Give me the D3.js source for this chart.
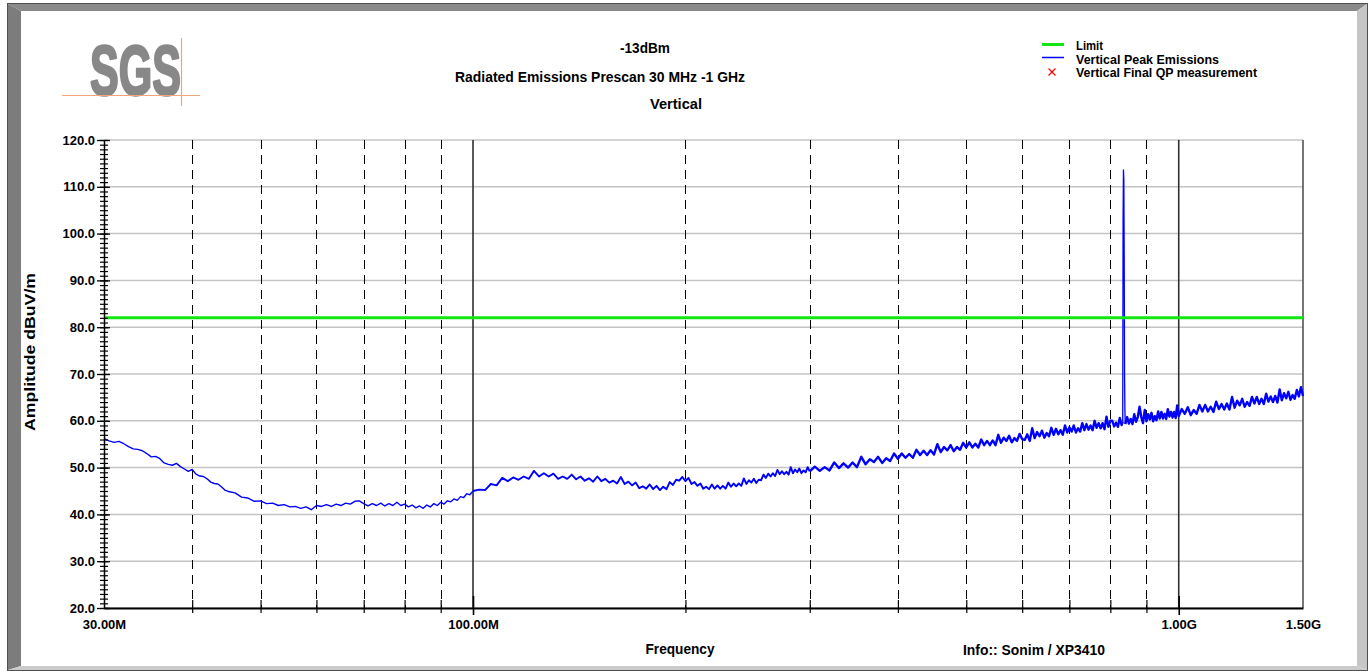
<!DOCTYPE html>
<html>
<head>
<meta charset="utf-8">
<script src="https://cdn.jsdelivr.net/npm/d3@7"></script>
<style>
  body { margin: 0; background: #fff; }
  svg text { font-family: "Liberation Sans", Arial, sans-serif; font-weight: bold; }
</style>
</head>
<body>
<div id="canvas"></div>
<script>
// frequency in MHz, amplitude in dBuV/m
var scan30to100 = [[30,56.2],[30.5,55.7],[31,55.4],[31.5,55.6],[32,55.1],[32.5,54.5],[33,54.0],[33.5,53.9],[34,53.6],[34.5,53.0],
    [35,52.3],[35.5,52.4],[36,51.9],[36.5,51.0],[37,50.7],[37.5,50.5],[38,50.9],[38.5,50.2],[39,49.7],[39.5,49.2],
    [40,49.6],[40.5,48.6],[41,48.2],[41.5,48.1],[42,47.6],[42.5,46.9],[43,46.6],[43.5,46.5],[44,45.9],[44.5,45.2],
    [45,44.9],[46,44.6],[47,43.7],[48,43.5],[49,42.8],[50,42.9],[51,42.3],[52,42.4],[53,41.9],[54,42.1],
    [55,41.6],[56,41.7],[57,41.3],[58,41.6],[59,41.0],[60,41.9],[61,41.7],[62,42.1],[63,41.7],[64,42.2],
    [65,41.9],[66,42.4],[67,42.2],[68,42.8],[69,42.9],[70,42.3],[71,41.8],[72,42.3],[73,41.9],[74,42.4],
    [75,41.8],[76,42.3],[77,41.9],[78,42.6],[79,41.9],[80,42.2],[81,41.6],[82,42.0],[83,41.4],[84,41.8],
    [85,41.3],[86,42.0],[87,41.6],[88,42.3],[89,41.9],[90,42.6],[91,42.2],[92,42.9],[93,42.7],[94,43.3],
    [95,43.0],[96,43.8],[97,43.6],[98,44.4],[99,44.2],[100,45.0]];

var scan100to300 = [[102,45.3],[104,45.2],[106,46.5],[108,46.2],[110,47.8],[112,47.1],[114,47.9],[116,47.4],[118,48.1],[120,47.6],
    [122,49.3],[124,48.1],[126,48.8],[128,48.1],[130,48.7],[132,47.6],[134,48.1],[136,47.6],[138,48.5],[140,47.5],
    [142,48.1],[144,47.2],[146,47.7],[148,47.0],[150,48.1],[152,47.1],[154,47.6],[156,46.8],[158,47.2],[160,46.6],
    [162,48.0],[164,46.5],[166,47.0],[168,46.2],[170,46.8],[172,45.6],[174,46.0],[176,45.5],[178,46.4],[180,45.4],
    [182,46.1],[184,45.2],[186,45.9],[188,45.4],[190,46.9],[192,46.3],[194,47.4],[196,47.2],[198,48.0],[200,47.1],
    [202,47.8],[204,46.5],[206,46.9],[208,46.1],[210,46.6],[212,45.5],[214,45.9],[216,45.4],[218,46.4],[220,45.5],
    [222,46.2],[224,45.5],[226,46.1],[228,45.5],[230,46.8],[232,45.9],[234,46.6],[236,46.0],[238,46.6],[240,46.1],
    [242,47.7],[244,46.5],[246,47.3],[248,46.8],[250,47.6],[252,46.7],[254,47.4],[256,47.3],[258,48.5],[260,47.8],
    [262,48.7],[264,48.1],[266,48.8],[268,48.2],[270,49.5],[272,48.6],[274,49.2],[276,48.6],[278,49.1],[280,48.5],
    [282,50.1],[284,48.8],[286,49.6],[288,49.0],[290,49.8],[292,48.8],[294,49.4],[296,49.0],[298,50.1],[300,49.2]];

var scan300to833 = [[305,50.2],[310,49.3],[315,50.1],[320,49.4],[325,51.1],[330,49.9],[335,50.9],[340,50.0],[345,51.1],[350,50.1],
    [355,52.3],[360,50.7],[365,51.8],[370,51.2],[375,52.3],[380,51.0],[385,52.0],[390,51.4],[395,53.0],[400,51.9],
    [405,53.0],[410,52.1],[415,52.9],[420,52.1],[425,53.8],[430,52.7],[435,53.6],[440,52.7],[445,53.7],[450,52.8],
    [455,55.0],[460,53.3],[465,54.4],[470,53.7],[475,54.8],[480,53.5],[485,54.4],[490,53.8],[495,55.3],[500,54.3],
    [505,55.4],[510,54.3],[515,55.1],[520,54.3],[525,56.0],[530,54.8],[535,55.7],[540,54.8],[545,55.8],[550,54.8],
    [555,57.0],[560,55.3],[565,56.4],[570,55.7],[575,56.8],[580,55.4],[585,56.3],[590,55.7],[595,57.2],[600,56.1],
    [605,55.9],[610,57.1],[615,55.7],[620,58.4],[625,56.3],[630,57.6],[635,56.7],[640,57.9],[645,56.4],[650,57.4],
    [655,56.7],[660,58.5],[665,57.0],[670,58.3],[675,57.1],[680,58.0],[685,57.0],[690,59.0],[695,57.5],[700,58.6],
    [705,57.7],[710,59.0],[715,57.5],[720,58.4],[725,57.7],[730,59.5],[735,58.0],[740,59.3],[745,58.1],[750,59.0],
    [755,58.0],[760,60.0],[765,58.5],[770,59.5],[775,58.4],[780,59.5],[785,58.2],[790,60.9],[795,58.7],[800,60.0],
    [805,60.0],[810,58.8],[815,59.6],[820,58.7],[825,60.6],[830,59.1],[833,59.8]];

// carrier spike near 836 MHz
var spike833to840 = [[833,59.8],[834,103.0],[835,113.6],[836,111.5],[837,96.0],[838,69.8],[839,62.0],[840,59.3]];

var scan840to1000 = [[840,59.3],[845,60.8],[850,59.4],[855,60.4],[860,59.3],[865,61.4],[870,59.8],
    [875,60.8],[880,63.0],[885,60.8],[890,59.5],[895,62.3],[900,59.9],[905,61.4],[910,60.3],[915,61.7],[920,59.9],
    [925,61.0],[930,60.1],[935,62.0],[940,60.5],[945,61.9],[950,60.5],[955,61.5],[960,60.4],[965,62.5],[970,60.9],
    [975,61.9],[980,60.7],[985,61.9],[990,60.6],[995,63.3],[1000,61.0]];

var scan1000to1500 = [[1010,62.5],[1020,61.5],[1030,62.9],[1040,61.2],[1050,62.3],[1060,61.5],[1070,63.4],[1080,62.0],[1090,63.4],[1100,62.0],
    [1110,63.0],[1120,61.9],[1130,64.1],[1140,62.5],[1150,63.6],[1160,62.4],[1170,63.7],[1180,62.4],[1190,65.1],[1200,62.8],
    [1210,64.3],[1220,63.3],[1230,64.7],[1240,63.0],[1250,64.0],[1260,63.2],[1270,65.1],[1280,63.7],[1290,65.1],[1300,63.6],
    [1310,64.7],[1320,63.6],[1330,65.8],[1340,64.1],[1350,65.2],[1360,64.0],[1370,65.3],[1380,63.9],[1390,66.7],[1400,64.4],
    [1410,65.9],[1420,64.8],[1430,66.2],[1440,64.5],[1450,65.5],[1460,64.7],[1470,66.6],[1480,65.2],[1490,67.2],[1500,65.3]];

var limitLine = [[30, 82], [1500, 82]];

var yTickValues = [20, 30, 40, 50, 60, 70, 80, 90, 100, 110, 120];
var xGridMHz = [40, 50, 60, 70, 80, 90, 200, 300, 400, 500, 600, 700, 800, 900];
var xMajorMHz = [30, 100, 1000, 1500];
var xMajorLabels = ['30.00M', '100.00M', '1.00G', '1.50G'];
var legendLabels = ['Limit', 'Vertical Peak Emissions', 'Vertical Final QP measurement'];
var titleLines = ['-13dBm', 'Radiated Emissions  Prescan 30 MHz -1 GHz', 'Vertical'];

var svgWidth = 1369;
var svgHeight = 671;
var traceColor = '#0000ff';
var limitColor = '#14e614';

var svg = d3.select('#canvas').append('svg')
    .attr('width', svgWidth)
    .attr('height', svgHeight)
    .style('display', 'block');

var x = d3.scaleLog().domain([30, 1500]).range([104, 1303]);
var y = d3.scaleLinear().domain([20, 120]).range([608, 140]);

// window frame (bevel)
svg.append('rect').attr('x', 0).attr('y', 0).attr('width', svgWidth).attr('height', svgHeight).attr('fill', '#fff');
svg.append('polygon').attr('points', '8,4 1367,4 1357,11 21,11').attr('fill', '#8a8a8a');
svg.append('polygon').attr('points', '8,4 21,11 21,666 8,670').attr('fill', '#7c7c7c');
svg.append('polygon').attr('points', '1367,4 1367,670 1357,666 1357,11').attr('fill', '#c6c6c6');
svg.append('polygon').attr('points', '8,670 1367,670 1357,666 21,666').attr('fill', '#cacaca');
svg.append('rect').attr('x', 7.5).attr('y', 3.5).attr('width', 1360).attr('height', 667)
    .attr('fill', 'none').attr('stroke', '#505050').attr('stroke-width', 1);

// SGS logo
svg.append('text')
    .attr('x', 90).attr('y', 95)
    .attr('font-size', 70)
    .attr('textLength', 91).attr('lengthAdjust', 'spacingAndGlyphs')
    .attr('fill', '#888888')
    .attr('stroke', '#888888').attr('stroke-width', 2.6).attr('stroke-linejoin', 'round')
    .text('SGS');
svg.append('line').attr('x1', 62).attr('x2', 200).attr('y1', 95.5).attr('y2', 95.5)
    .attr('stroke', '#f2a474').attr('stroke-width', 1.2);
svg.append('line').attr('x1', 181.5).attr('x2', 181.5).attr('y1', 38).attr('y2', 106)
    .attr('stroke', '#f2a474').attr('stroke-width', 1.2);

// titles
var titlePos = [[645, 53, 50], [600, 82, 290], [676, 109, 52]];
titleLines.forEach(function (t, i) {
    svg.append('text')
        .attr('x', titlePos[i][0]).attr('y', titlePos[i][1])
        .attr('text-anchor', 'middle')
        .attr('font-size', 14)
        .attr('textLength', titlePos[i][2]).attr('lengthAdjust', 'spacingAndGlyphs')
        .text(t);
});

// legend
var legendY = [50, 63.5, 77];
var legendW = [27, 143, 181];
legendLabels.forEach(function (t, i) {
    svg.append('text')
        .attr('x', 1076).attr('y', legendY[i])
        .attr('font-size', 12.5)
        .attr('textLength', legendW[i]).attr('lengthAdjust', 'spacingAndGlyphs')
        .text(t);
});
svg.append('line').attr('x1', 1042).attr('x2', 1064).attr('y1', 44.5).attr('y2', 44.5)
    .attr('stroke', limitColor).attr('stroke-width', 3);
svg.append('line').attr('x1', 1042).attr('x2', 1064).attr('y1', 57.5).attr('y2', 57.5)
    .attr('stroke', traceColor).attr('stroke-width', 1.5);
svg.append('path').attr('d', 'M1048.5,68.5L1055.5,75.5M1055.5,68.5L1048.5,75.5')
    .attr('stroke', '#ff0000').attr('stroke-width', 1.2).attr('fill', 'none');

// horizontal grid
svg.append('g').selectAll('line').data(yTickValues).enter().append('line')
    .attr('x1', x(30)).attr('x2', x(1500))
    .attr('y1', function (d) { return y(d); })
    .attr('y2', function (d) { return y(d); })
    .attr('stroke', '#c4c4c4').attr('stroke-width', 1.5);

// vertical dashed grid
svg.append('g').selectAll('line').data(xGridMHz).enter().append('line')
    .attr('x1', function (d) { return Math.round(x(d)) + 0.5; })
    .attr('x2', function (d) { return Math.round(x(d)) + 0.5; })
    .attr('y1', y(120)).attr('y2', y(20))
    .attr('stroke', '#000').attr('stroke-width', 1)
    .attr('stroke-dasharray', '9,6');

// decade lines + right border
svg.append('g').selectAll('line').data([100, 1000]).enter().append('line')
    .attr('x1', function (d) { return x(d); })
    .attr('x2', function (d) { return x(d); })
    .attr('y1', y(120)).attr('y2', y(20))
    .attr('stroke', '#303030').attr('stroke-width', 1.6);
svg.append('line').attr('x1', x(1500)).attr('x2', x(1500)).attr('y1', y(120)).attr('y2', y(20))
    .attr('stroke', '#555').attr('stroke-width', 1.6);

// peak trace, drawn per sweep segment (the noise band gets thicker with frequency)
var line = d3.line()
    .x(function (d) { return x(d[0]); })
    .y(function (d) { return y(d[1]); });
var segments = [
    {pts: scan30to100, w: 1.4},
    {pts: [scan30to100[scan30to100.length - 1]].concat(scan100to300), w: 1.9},
    {pts: [scan100to300[scan100to300.length - 1]].concat(scan300to833), w: 2.4},
    {pts: spike833to840, w: 1.3},
    {pts: scan840to1000.concat(scan1000to1500), w: 2.4}
];
segments.forEach(function (s) {
    svg.append('path').datum(s.pts)
        .attr('d', line)
        .attr('fill', 'none')
        .attr('stroke', traceColor)
        .attr('stroke-width', s.w)
        .attr('stroke-linejoin', 'round');
});

// limit line
svg.append('path').datum(limitLine)
    .attr('d', line)
    .attr('fill', 'none')
    .attr('stroke', limitColor)
    .attr('stroke-width', 3);

// y axis
var yAxisG = svg.append('g').attr('transform', 'translate(' + x(30) + ',0)')
    .call(d3.axisLeft(y).tickValues(yTickValues).tickFormat(d3.format('.1f'))
        .tickSizeInner(7).tickSizeOuter(0).tickPadding(2));
yAxisG.selectAll('.tick line').attr('x1', 6).attr('stroke-width', 1.3);
yAxisG.selectAll('.tick text').attr('font-size', 13).attr('font-family', '"Liberation Sans", Arial, sans-serif');
yAxisG.select('.domain').attr('stroke-width', 1.5);

var yMinorG = svg.append('g').attr('transform', 'translate(' + x(30) + ',0)')
    .call(d3.axisLeft(y).tickValues(d3.range(20, 121, 1)).tickFormat('').tickSize(4));
yMinorG.selectAll('.tick line').attr('x1', 4).attr('stroke-width', 1.2);
yMinorG.select('.domain').remove();

// x axis
var xMinorG = svg.append('g').attr('transform', 'translate(0,' + y(20) + ')')
    .call(d3.axisBottom(x).tickValues(xGridMHz).tickFormat('').tickSize(5));
xMinorG.selectAll('.tick line').attr('y1', -8).attr('stroke-width', 1.2);
xMinorG.select('.domain').remove();

var xAxisG = svg.append('g').attr('transform', 'translate(0,' + y(20) + ')')
    .call(d3.axisBottom(x).tickValues(xMajorMHz)
        .tickFormat(function (d, i) { return xMajorLabels[i]; })
        .tickSizeInner(7).tickSizeOuter(0).tickPadding(5));
xAxisG.selectAll('.tick line').attr('y1', -12).attr('stroke-width', 1.6)
    .attr('opacity', function (d) { return (d === 30 || d === 1500) ? 0 : 1; });
xAxisG.selectAll('.tick text').attr('font-size', 13).attr('font-family', '"Liberation Sans", Arial, sans-serif');
xAxisG.select('.domain').attr('stroke-width', 2);

// axis titles
svg.append('text')
    .attr('transform', 'translate(35,352) rotate(-90)')
    .attr('text-anchor', 'middle')
    .attr('font-size', 15)
    .attr('textLength', 158).attr('lengthAdjust', 'spacingAndGlyphs')
    .text('Amplitude dBuV/m');
svg.append('text')
    .attr('x', 680).attr('y', 654)
    .attr('text-anchor', 'middle')
    .attr('font-size', 14)
    .attr('textLength', 69).attr('lengthAdjust', 'spacingAndGlyphs')
    .text('Frequency');
svg.append('text')
    .attr('x', 963).attr('y', 655)
    .attr('font-size', 14)
    .attr('textLength', 142).attr('lengthAdjust', 'spacingAndGlyphs')
    .text('Info:: Sonim / XP3410');
</script>
</body>
</html>
